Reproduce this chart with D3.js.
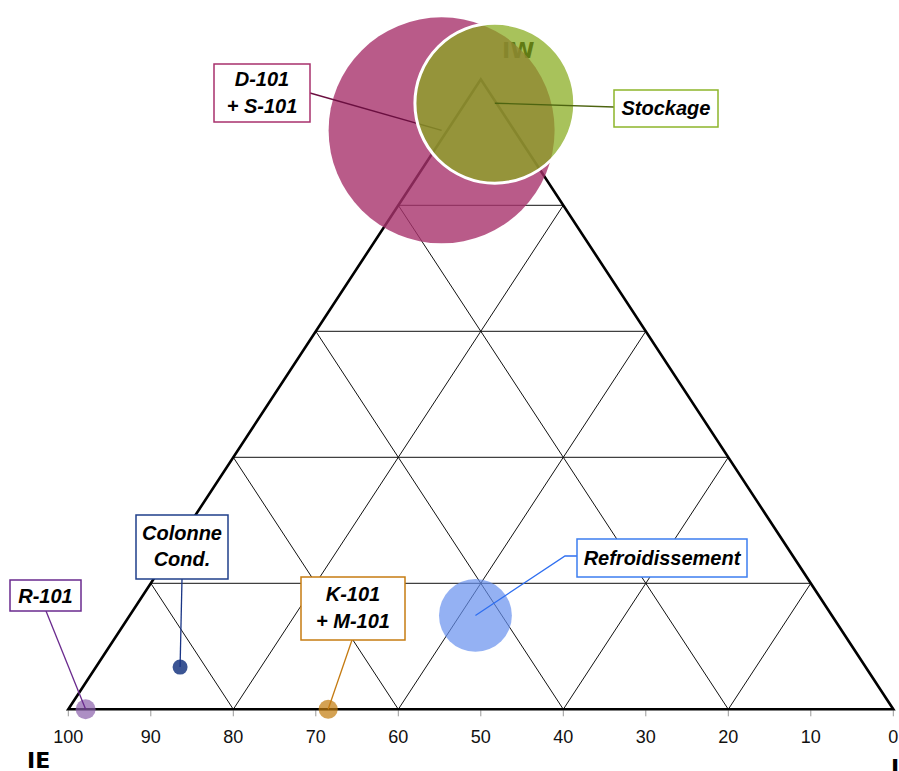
<!DOCTYPE html>
<html>
<head>
<meta charset="utf-8">
<script src="https://cdn.jsdelivr.net/npm/d3@7"></script>
<style>
  html, body { margin: 0; padding: 0; background: #fff; overflow: hidden; }
  svg { display: block; }
</style>
</head>
<body>
<svg id="chart" width="899" height="771"></svg>
<script>
// ---- data ----
const names = ["D-101 + S-101", "Stockage", "Refroidissement", "Colonne Cond.", "R-101", "K-101 + M-101"];
const ieValues = [8.8, 0.2, 43.2, 83.1, 97.9, 68.5];   // IE (%)
const iwValues = [91.9, 96.2, 14.9, 6.7, 0, 0];        // IW (%)
const sizeValues = [100, 50, 10.4, 0.44, 0.78, 0.71];  // bubble size
const tickValues = [100, 90, 80, 70, 60, 50, 40, 30, 20, 10, 0];
const gridSteps = [20, 40, 60, 80];
const axisNames = { left: "IE", top: "IW", right: "I" };

// ---- styles / layout ----
const fills = ["#a8326c", "#86ab1c", "#6690ee", "#193781", "#8a5fab", "#c27a0a"];
const fillOpacity = [0.8, 0.72, 0.7, 0.85, 0.7, 0.7];
const borderColors = ["#a8306c", "#8db52a", "#3d7ef0", "#1f3f8a", "#6a2a8e", "#c67c12"];
const leaderColors = ["#6b0f40", "#4d6410", "#2f6ff0", "#1a3585", "#6a2a8e", "#c47a10"];
const labelLayout = [
  { box: [214, 64, 310, 122], lines: ["D-101", "+ S-101"], base: [86, 113], from: [[310, 93]] },
  { box: [614, 90, 718, 127], lines: ["Stockage"], base: [115], from: [[614, 107]] },
  { box: [577, 539, 747, 577], lines: ["Refroidissement"], base: [565], from: [[577, 556], [565, 556]] },
  { box: [136, 515, 228, 579], lines: ["Colonne", "Cond."], base: [540, 566], from: [[182, 579]] },
  { box: [10, 580, 81, 611], lines: ["R-101"], base: [603], from: [[46, 611]] },
  { box: [301, 577, 405, 640], lines: ["K-101", "+ M-101"], base: [601, 628], from: [[352, 640]] }
];

const svg = d3.select("#chart");

// scales: bottom axis value = IE + IW/2 for horizontal position, IW for height
const x = d3.scaleLinear().domain([100, 0]).range([68.3, 893.3]);
const y = d3.scaleLinear().domain([0, 100]).range([709.3, 79.3]);
const r = d3.scaleSqrt().domain([0, 100]).range([0, 113]);
const P = (ie, iw) => [x(ie + iw / 2), y(iw)];

// ---- grid ----
const gridG = svg.append("g");
const gridSegs = [];
gridSteps.forEach(k => {
  gridSegs.push([P(100 - k, k), P(0, k)]);        // constant IW
  gridSegs.push([P(100 - k, 0), P(0, 100 - k)]);  // constant I
  gridSegs.push([P(k, 0), P(k, 100 - k)]);        // constant IE
});
gridG.selectAll("line").data(gridSegs).join("line")
  .attr("x1", d => d[0][0]).attr("y1", d => d[0][1])
  .attr("x2", d => d[1][0]).attr("y2", d => d[1][1])
  .attr("stroke", "#111").attr("stroke-width", 1);

// ---- axis ticks ----
const axisG = svg.append("g");
axisG.selectAll("line").data(tickValues).join("line")
  .attr("x1", d => x(d)).attr("x2", d => x(d))
  .attr("y1", y(0) + 1).attr("y2", y(0) + 7)
  .attr("stroke", "#999").attr("stroke-width", 1);
axisG.selectAll("text").data(tickValues).join("text")
  .attr("x", d => x(d)).attr("y", 743)
  .attr("text-anchor", "middle")
  .attr("font-family", "Liberation Sans, Arial, sans-serif")
  .attr("font-size", 18).attr("fill", "#111")
  .text(d => d);

// ---- triangle outline ----
const tri = [P(100, 0), P(0, 100), P(0, 0)];
svg.append("path")
  .attr("d", d3.line()(tri) + "Z")
  .attr("fill", "none").attr("stroke", "#000")
  .attr("stroke-width", 2.6).attr("stroke-linejoin", "miter");

// ---- corner names ----
const nameFont = "DejaVu Sans, Verdana, sans-serif";
svg.append("text").attr("x", 27).attr("y", 768).attr("font-family", nameFont)
  .attr("font-weight", "bold").attr("font-size", 22).text(axisNames.left);
svg.append("text").attr("x", 502).attr("y", 58).attr("font-family", nameFont)
  .attr("font-weight", "bold").attr("font-size", 22).text(axisNames.top);
svg.append("text").attr("x", 891).attr("y", 775).attr("font-family", nameFont)
  .attr("font-weight", "bold").attr("font-size", 22).text(axisNames.right);

// ---- bubbles & leaders ----
const pts = names.map((n, i) => P(ieValues[i], iwValues[i]));

function drawBubble(i) {
  svg.append("circle")
    .attr("cx", pts[i][0]).attr("cy", pts[i][1])
    .attr("r", r(sizeValues[i]))
    .attr("fill", fills[i]).attr("fill-opacity", fillOpacity[i])
    .attr("stroke", i === 1 ? "#fff" : "none")
    .attr("stroke-width", i === 1 ? 3 : 0);
}
function drawLeader(i) {
  const L = labelLayout[i];
  const path = L.from.concat([pts[i]]);
  svg.append("path").attr("d", d3.line()(path))
    .attr("fill", "none").attr("stroke", leaderColors[i]).attr("stroke-width", 1.3);
}
function drawLabel(i) {
  const L = labelLayout[i];
  const [x0, y0, x1, y1] = L.box;
  const g = svg.append("g");
  g.append("rect").attr("x", x0).attr("y", y0)
    .attr("width", x1 - x0).attr("height", y1 - y0)
    .attr("fill", "#fff").attr("stroke", borderColors[i]).attr("stroke-width", 1.5);
  L.lines.forEach((t, j) => {
    g.append("text").attr("x", (x0 + x1) / 2).attr("y", L.base[j])
      .attr("text-anchor", "middle")
      .attr("font-family", "Liberation Sans, Arial, sans-serif")
      .attr("font-weight", "bold").attr("font-style", "italic")
      .attr("font-size", 20).attr("fill", "#000")
      .text(t);
  });
}

drawBubble(0);
drawLeader(0);
drawBubble(1);
drawLeader(1);
[2, 3, 4, 5].forEach(drawBubble);
[2, 3, 4, 5].forEach(drawLeader);
[0, 1, 2, 3, 4, 5].forEach(drawLabel);
</script>
</body>
</html>
